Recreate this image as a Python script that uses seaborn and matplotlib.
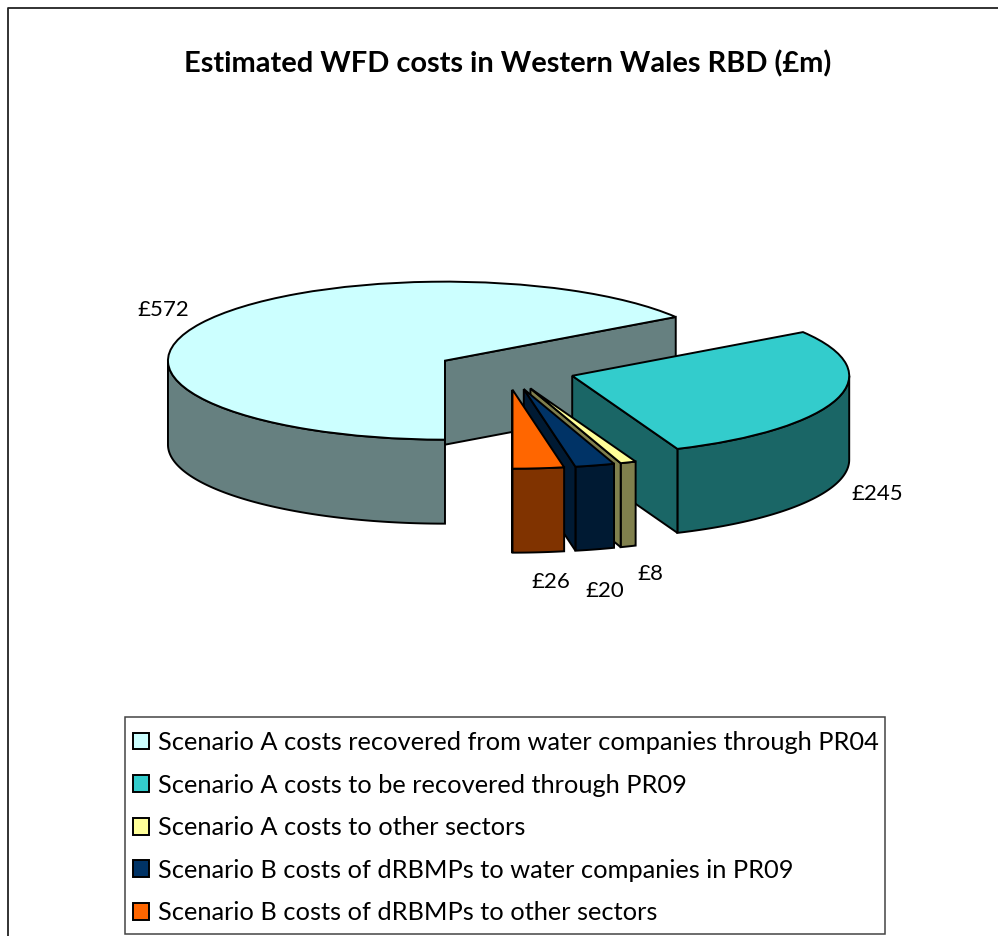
import numpy as np
import seaborn as sns
import matplotlib.pyplot as plt
from matplotlib.lines import Line2D
from matplotlib.patches import Rectangle

W, H = 998, 936

title = 'Estimated WFD costs in Western Wales RBD (£m)'
categories = [
    'Scenario A costs recovered from water companies through PR04',
    'Scenario A costs to be recovered through PR09',
    'Scenario A costs to other sectors',
    'Scenario B costs of dRBMPs to water companies in PR09',
    'Scenario B costs of dRBMPs to other sectors',
]
values = [572, 245, 8, 20, 26]
top_colors = ['#CCFFFF', '#33CCCC', '#FFFF99', '#003366', '#FF6600']
side_colors = ['#668080', '#1A6666', '#80804D', '#001A33', '#803300']

sns.set_theme(style='white')
plt.rcParams['font.family'] = ['Lato', 'DejaVu Sans']

fig = plt.figure(figsize=(W / 100, H / 100), dpi=100)
ax = fig.add_axes([0, 0, 1, 1])

LW = 1.4
wedges, _ = ax.pie(values, colors=top_colors, explode=[0.25] * len(values),
                   startangle=270, counterclock=False,
                   wedgeprops={'edgecolor': 'black', 'linewidth': LW})

# squash the pie: one data unit is 277px across and 79px up
cx, cy, rx, ry = 506, 370, 277, 79
ax.set_aspect('auto')
ax.set_xlim(-cx / rx, (W - cx) / rx)
ax.set_ylim((cy - H) / ry, cy / ry)
ax.axis('off')

depth = 84 / ry

# side walls, same draw order as the slices so later ones sit in front
for i, w in enumerate(wedges):
    w.set_zorder(10 + 2 * i + 1)
    x0, y0 = w.center
    # front part of the outer wall
    lo, hi = w.theta1, w.theta2
    for k in (-360, 0):
        a, b = max(lo, 180 + k), min(hi, 360 + k)
        if a < b:
            t = np.radians(np.linspace(a, b, 120))
            xs = x0 + w.r * np.cos(t)
            ys = y0 + w.r * np.sin(t)
            ax.fill(np.r_[xs, xs[::-1]], np.r_[ys, ys[::-1] - depth],
                    facecolor=side_colors[i], edgecolor='black', lw=LW,
                    zorder=10 + 2 * i)
    # radial wall at the clockwise end of the slice
    t = np.radians(lo)
    xe, ye = x0 + w.r * np.cos(t), y0 + w.r * np.sin(t)
    ax.fill([x0, xe, xe, x0], [y0, ye, ye - depth, y0 - depth],
            facecolor=side_colors[i], edgecolor='black', lw=LW,
            zorder=10 + 2 * i)

# value labels, centre positions in pixels
label_pos = [(163, 310), (877, 494), (650, 574), (605, 591), (551, 582)]
for v, (px, py) in zip(values, label_pos):
    fig.text(px / W, 1 - py / H, f'£{v}', ha='center', va='center',
             fontsize=16, color='black')

fig.text(508 / W, 1 - 64 / H, title, ha='center', va='center',
         fontsize=20.9, fontweight='bold', color='black')

# chart frame: left and top only, the rest is cropped away
fig.add_artist(Line2D([7.5 / W, 7.5 / W, 1], [0, 1 - 8 / H, 1 - 8 / H],
                      color='#222222', lw=1.3))

# legend box drawn on its own so its size can follow the picture
fig.add_artist(Rectangle((125.5 / W, 1 - 933.5 / H), 759 / W, 217 / H,
                         transform=fig.transFigure, facecolor='white',
                         edgecolor='#444444', lw=1.1, zorder=40))
leg = fig.legend(wedges, categories, loc='upper left',
                 bbox_to_anchor=(133 / W, 1 - 731 / H), bbox_transform=fig.transFigure,
                 fontsize=18.3, frameon=False, borderpad=0, labelspacing=0.77,
                 handlelength=0.63, handleheight=0.63, handletextpad=0.36,
                 borderaxespad=0, labelcolor='black')
leg.set_zorder(50)

fig.savefig('out.png', dpi=100)
